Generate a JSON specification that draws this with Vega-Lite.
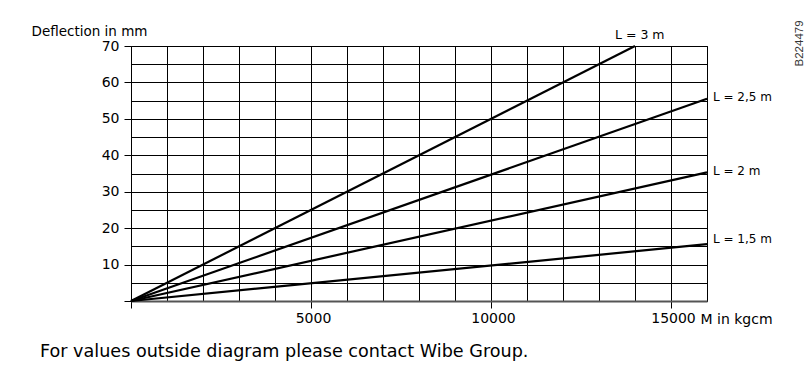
{
  "$schema": "https://vega.github.io/schema/vega-lite/v6.json",
  "autosize": {"type": "none"},
  "width": 576,
  "height": 255,
  "padding": {"left": 131, "top": 46, "right": 101, "bottom": 66},
  "background": "white",
  "config": {"view": {"stroke": "black", "strokeWidth": 1}, "font": "DejaVu Sans"},
  "title": {"text": "For values outside diagram please contact Wibe Group.", "orient": "bottom", "anchor": "start", "frame": "group", "dx": -91, "offset": 17, "font": "DejaVu Sans", "fontSize": 17.6, "fontWeight": "normal", "color": "black"},
  "datasets": {
    "lines": [
      {"L": "L = 3 m", "M": 0, "D": 0},
      {"L": "L = 3 m", "M": 14000, "D": 70},
      {"L": "L = 2,5 m", "M": 0, "D": 0},
      {"L": "L = 2,5 m", "M": 16000, "D": 55.5},
      {"L": "L = 2 m", "M": 0, "D": 0},
      {"L": "L = 2 m", "M": 16000, "D": 35.3},
      {"L": "L = 1,5 m", "M": 0, "D": 0},
      {"L": "L = 1,5 m", "M": 16000, "D": 15.6}
    ],
    "code": [{"code": "B224479", "M": 18590, "D": 70.7}]
  },
  "data": {"name": "lines"},
  "encoding": {
    "x": {
      "field": "M", "type": "quantitative",
      "scale": {"domain": [0, 16000], "nice": false, "zero": true},
      "axis": {
        "values": [0, 1000, 2000, 3000, 4000, 5000, 6000, 7000, 8000, 9000, 10000, 11000, 12000, 13000, 14000, 15000, 16000],
        "format": "d",
        "grid": true, "gridColor": "black", "gridOpacity": 1, "gridWidth": 1,
        "domainColor": "#555", "domainWidth": 2,
        "tickColor": {"condition": {"test": "datum.value % 5000 == 0 && datum.value < 16000", "value": "black"}, "value": "transparent"},
        "tickSize": 7, "tickWidth": 1,
        "labelExpr": "(datum.value == 5000 || datum.value == 10000 || datum.value == 15000) ? datum.label : ''",
        "labelOffset": 2,
        "labelOverlap": false, "labelFlush": false, "labelBound": false,
        "labelFont": "DejaVu Sans", "labelFontSize": 14, "labelColor": "black", "labelPadding": 3,
        "title": "M in kgcm",
        "titleX": 569, "titleY": 22, "titleAlign": "left", "titleBaseline": "alphabetic",
        "titleFont": "DejaVu Sans", "titleFontSize": 14, "titleFontWeight": "normal", "titleColor": "black"
      }
    },
    "y": {
      "field": "D", "type": "quantitative",
      "scale": {"domain": [0, 70], "nice": false, "zero": true},
      "axis": {
        "values": [0, 5, 10, 15, 20, 25, 30, 35, 40, 45, 50, 55, 60, 65, 70],
        "grid": true, "gridColor": "black", "gridOpacity": 1, "gridWidth": 1,
        "domain": false,
        "tickColor": {"condition": {"test": "datum.value % 10 == 0", "value": "black"}, "value": "transparent"},
        "tickSize": 7, "tickWidth": 1,
        "labelExpr": "(datum.value % 10 == 0 && datum.value > 0) ? datum.label : ''",
        "labelOverlap": false, "labelFlush": false, "labelBound": false,
        "labelFont": "DejaVu Sans", "labelFontSize": 14, "labelColor": "black", "labelPadding": 5,
        "title": "Deflection in mm",
        "titleAngle": 0, "titleX": -100, "titleY": -11, "titleAlign": "left", "titleBaseline": "alphabetic",
        "titleFont": "DejaVu Sans", "titleFontSize": 13.5, "titleFontWeight": "normal", "titleColor": "black"
      }
    }
  },
  "layer": [
    {
      "mark": {"type": "line", "color": "black", "strokeWidth": 2.2},
      "encoding": {"detail": {"field": "L"}}
    },
    {
      "transform": [{"filter": "datum.M > 0 && datum.L == 'L = 3 m'"}],
      "mark": {"type": "text", "align": "left", "baseline": "middle", "dx": -20, "dy": -11, "font": "DejaVu Sans", "fontSize": 12.5, "color": "black"},
      "encoding": {"text": {"field": "L"}}
    },
    {
      "transform": [{"filter": "datum.M > 0 && (datum.L == 'L = 2,5 m' || datum.L == 'L = 2 m')"}],
      "mark": {"type": "text", "align": "left", "baseline": "middle", "dx": 6, "dy": -1.5, "font": "DejaVu Sans", "fontSize": 12, "color": "black"},
      "encoding": {"text": {"field": "L"}}
    },
    {
      "transform": [{"filter": "datum.M > 0 && datum.L == 'L = 1,5 m'"}],
      "mark": {"type": "text", "align": "left", "baseline": "middle", "dx": 6, "dy": -5, "font": "DejaVu Sans", "fontSize": 12, "color": "black"},
      "encoding": {"text": {"field": "L"}}
    },
    {
      "data": {"name": "code"},
      "mark": {"type": "text", "align": "center", "baseline": "middle", "angle": 270, "font": "Liberation Sans", "fontSize": 11.5, "color": "#333"},
      "encoding": {"text": {"field": "code"}}
    }
  ]
}
